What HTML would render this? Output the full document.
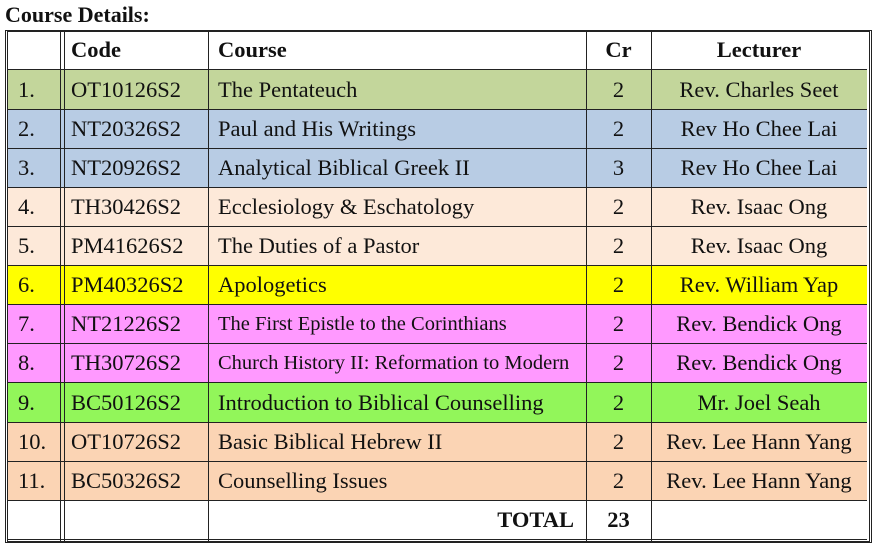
<!DOCTYPE html>
<html><head><style>
body{margin:0;width:875px;height:545px;background:#fff;font-family:"Liberation Serif",serif;color:#111;position:relative;overflow:hidden}
.t{position:absolute;left:5px;top:2px;font-weight:bold;font-size:22px}
.r{position:absolute;left:7px;width:860px;border-bottom:1px solid #222}
.c{position:absolute;top:0;bottom:0;display:flex;align-items:center;font-size:22.5px;white-space:nowrap}
.v{position:absolute;top:30px;height:511px;width:1px;background:#222}
</style></head><body>
<div class="t">Course Details:</div>
<div id="tb"></div>
<div style="position:absolute;left:5px;top:30px;width:861px;height:509px;border:1px solid #222;border-left:3px double #222;border-right:3px double #222;border-top:2px solid #222;border-bottom:2px solid #222;"></div>
<div class="v" style="left:60px;width:3px;border-left:1px solid #222;border-right:1px solid #222;background:none"></div>
<div class="v" style="left:208px"></div>
<div class="v" style="left:586px"></div>
<div class="v" style="left:651px"></div>
<script>
var rows=[
["","Code","Course","Cr","Lecturer","#fff",1],
["1.","OT10126S2","The Pentateuch","2","Rev. Charles Seet","#c3d69b"],
["2.","NT20326S2","Paul and His Writings","2","Rev Ho Chee Lai","#b8cce4"],
["3.","NT20926S2","Analytical Biblical Greek II","3","Rev Ho Chee Lai","#b8cce4"],
["4.","TH30426S2","Ecclesiology &amp; Eschatology","2","Rev. Isaac Ong","#fde9d9"],
["5.","PM41626S2","The Duties of a Pastor","2","Rev. Isaac Ong","#fde9d9"],
["6.","PM40326S2","Apologetics","2","Rev. William Yap","#ffff00"],
["7.","NT21226S2","The First Epistle to the Corinthians","2","Rev. Bendick Ong","#ff99ff",0,1],
["8.","TH30726S2","Church History II: Reformation to Modern","2","Rev. Bendick Ong","#ff99ff",0,1],
["9.","BC50126S2","Introduction to Biblical Counselling","2","Mr. Joel Seah","#92f65a"],
["10.","OT10726S2","Basic Biblical Hebrew II","2","Rev. Lee Hann Yang","#fbd4b4"],
["11.","BC50326S2","Counselling Issues","2","Rev. Lee Hann Yang","#fbd4b4"],
["","","TOTAL","23","","#fff",2]];
var tops=[31,70,110,149,188,227,266,305,344,383,423,462,501,540];
var h="";
rows.forEach(function(r,i){
var y=tops[i],ht=tops[i+1]-y;
var b=r[6]==1?"font-weight:bold;":"";
h+='<div class="r" style="top:'+y+'px;height:'+(ht-1)+'px;background:'+r[5]+'">';
h+='<div class="c" style="left:11px">'+r[0]+'</div>';
h+='<div class="c" style="left:64px;'+b+'">'+r[1]+'</div>';
if(r[6]==2) h+='<div class="c" style="left:201px;width:366px;justify-content:flex-end;font-weight:bold">'+r[2]+'</div>';
else h+='<div class="c" style="left:211px;'+b+(r[7]?'font-size:20.5px;':'')+'">'+r[2]+'</div>';
h+='<div class="c" style="left:579px;width:65px;justify-content:center;'+(r[6]?'font-weight:bold;':'')+'">'+r[3]+'</div>';
h+='<div class="c" style="left:644px;width:216px;justify-content:center;'+b+'">'+r[4]+'</div>';
h+='</div>';});
document.getElementById("tb").innerHTML=h;
</script>
</body></html>
